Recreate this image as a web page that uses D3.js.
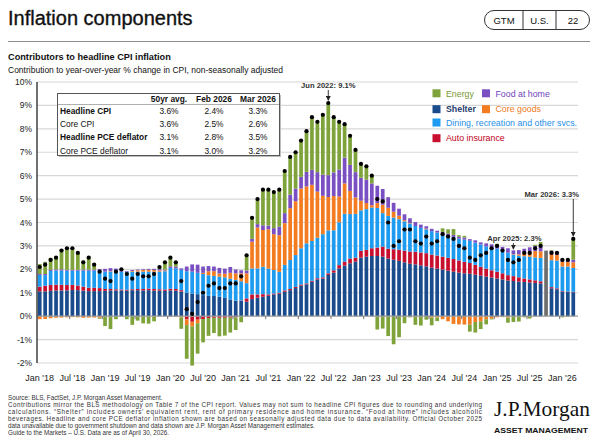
<!DOCTYPE html>
<html><head><meta charset="utf-8">
<script src="https://cdn.jsdelivr.net/npm/d3@7/dist/d3.min.js"></script>
<style>
html,body{margin:0;padding:0;background:#fff;}
svg{display:block;font-family:"Liberation Sans",Arial,Helvetica,sans-serif;}
</style></head><body>
<svg id="c" width="596" height="440"></svg>
<script>
// ---------------- DATA (Jan 2018 .. Mar 2026, index 93 = Oct 2025 unavailable) ----------------
const tickLabels = ["Jan '18","Jul '18","Jan '19","Jul '19","Jan '20","Jul '20","Jan '21","Jul '21","Jan '22","Jul '22","Jan '23","Jul '23","Jan '24","Jul '24","Jan '25","Jul '25","Jan '26"];

const headline = [
 2.1,2.2,2.4,2.5,2.8,2.9,2.9,2.7,2.3,2.5,2.2,1.9,
 1.6,1.5,1.9,2.0,1.8,1.6,1.8,1.7,1.7,1.8,2.1,2.3,
 2.5,2.3,1.5,0.3,0.1,0.6,1.0,1.3,1.4,1.2,1.2,1.4,
 1.4,1.7,2.6,4.2,5.0,5.4,5.4,5.3,5.4,6.2,6.8,7.0,
 7.5,7.9,8.5,8.3,8.6,9.1,8.5,8.3,8.2,7.7,7.1,6.5,
 6.4,6.0,5.0,4.9,4.0,3.0,3.2,3.7,3.7,3.2,3.1,3.4,
 3.1,3.2,3.5,3.4,3.3,3.0,2.9,2.5,2.4,2.6,2.7,2.9,
 3.0,2.8,2.4,2.3,2.4,2.7,2.7,2.9,3.0,null,2.7,2.7,
 2.4,2.4,3.3];

const shelter = [
 1.06,1.06,1.08,1.10,1.10,1.10,1.12,1.11,1.09,1.07,1.07,1.07,
 1.08,1.10,1.10,1.10,1.09,1.11,1.11,1.10,1.11,1.09,1.09,1.08,
 1.10,1.09,1.05,1.00,0.97,0.94,0.90,0.87,0.86,0.83,0.78,0.71,
 0.66,0.65,0.62,0.73,0.79,0.83,0.87,0.93,0.96,1.04,1.11,1.20,
 1.30,1.36,1.47,1.57,1.61,1.76,1.86,2.04,2.16,2.26,2.33,2.50,
 2.54,2.57,2.57,2.54,2.46,2.41,2.36,2.30,2.24,2.21,2.17,2.13,
 2.07,2.03,1.99,1.94,1.90,1.86,1.83,1.81,1.77,1.73,1.69,1.65,
 1.61,1.57,1.52,1.50,1.48,1.46,1.44,1.42,1.40,null,1.19,1.15,
 1.05,1.03,1.02];

const autoInsurance = [
 0.20,0.24,0.25,0.25,0.24,0.23,0.22,0.20,0.17,0.15,0.14,0.13,
 0.08,0.06,0.05,0.04,0.04,0.04,0.05,0.06,0.07,0.07,0.06,0.06,
 0.07,0.07,0.06,-0.14,-0.24,-0.15,-0.12,-0.08,-0.07,-0.07,-0.07,-0.06,
 -0.05,0.02,0.14,0.20,0.14,0.11,0.06,0.04,0.04,0.06,0.05,0.05,
 0.05,0.04,0.04,0.05,0.05,0.07,0.10,0.14,0.17,0.20,0.17,0.29,
 0.29,0.33,0.36,0.43,0.42,0.45,0.48,0.50,0.52,0.54,0.55,0.56,
 0.56,0.56,0.55,0.55,0.54,0.52,0.49,0.46,0.42,0.38,0.34,0.31,
 0.29,0.26,0.23,0.21,0.18,0.15,0.13,0.11,0.09,null,0.05,0.04,
 0.02,0.02,0.02];

const dining = [
 0.50,0.45,0.60,0.60,0.60,0.61,0.60,0.63,0.68,0.72,0.73,0.74,
 0.74,0.74,0.75,0.76,0.77,0.75,0.74,0.74,0.72,0.74,0.75,0.78,
 0.89,0.88,0.87,0.92,0.93,0.91,0.90,0.88,0.86,0.86,0.88,0.89,
 0.89,0.82,0.65,1.11,1.11,1.17,1.10,1.00,0.89,1.09,1.24,1.36,
 1.55,1.71,1.70,1.73,1.84,1.83,1.71,1.83,2.04,1.90,1.87,1.73,
 1.74,1.74,1.69,1.43,1.40,1.35,1.30,1.25,1.20,1.10,1.05,1.02,
 1.00,0.98,0.96,0.95,0.95,0.93,0.95,0.95,0.95,0.95,0.95,0.97,
 0.98,0.98,0.96,0.92,0.92,0.95,0.97,0.98,1.00,null,1.15,1.18,
 1.05,1.07,1.02];

const coreGoods = [
 -0.13,-0.12,-0.09,-0.07,-0.06,-0.05,-0.04,-0.05,-0.07,-0.06,-0.06,-0.07,
 0.00,0.02,0.00,-0.02,0.00,0.03,0.06,0.08,0.08,0.07,0.05,0.03,
 -0.02,-0.03,-0.05,-0.24,-0.20,-0.15,0.05,0.17,0.20,0.13,0.15,0.25,
 0.28,0.34,0.42,1.14,1.75,1.57,1.68,1.53,1.57,1.78,2.21,2.30,
 2.55,2.43,2.40,1.97,1.64,1.43,1.46,1.10,1.30,0.99,0.70,0.41,
 0.26,0.10,0.21,0.36,0.35,0.25,0.15,0.05,0.02,-0.02,0.00,0.03,
 -0.06,-0.06,-0.13,-0.22,-0.33,-0.35,-0.36,-0.36,-0.25,-0.22,-0.13,-0.10,
 -0.05,-0.03,-0.06,0.02,0.06,0.13,0.22,0.27,0.28,null,0.26,0.24,
 0.20,0.19,0.24];

const foodAtHome = [
 0.04,0.05,0.05,0.05,0.06,0.04,0.04,0.04,0.05,0.04,0.05,0.07,
 0.12,0.13,0.13,0.06,0.03,0.04,0.03,0.03,0.04,0.05,0.06,0.04,
 0.07,0.08,0.06,0.20,0.31,0.35,0.27,0.22,0.20,0.24,0.22,0.25,
 0.16,0.13,0.12,0.12,0.14,0.20,0.16,0.26,0.36,0.43,0.58,0.54,
 0.50,0.62,0.64,0.83,0.90,0.93,1.01,1.15,1.10,1.11,1.08,0.98,
 1.00,0.93,0.74,0.67,0.45,0.38,0.30,0.25,0.20,0.17,0.14,0.10,
 0.10,0.08,0.10,0.09,0.08,0.08,0.09,0.07,0.10,0.09,0.13,0.14,
 0.15,0.15,0.19,0.16,0.18,0.19,0.18,0.22,0.22,null,0.15,0.14,
 0.12,0.12,0.11];

const energy = [
 0.43,0.52,0.51,0.57,0.86,0.97,0.96,0.77,0.38,0.58,0.27,-0.04,
 -0.42,-0.55,-0.13,0.06,-0.13,-0.37,-0.19,-0.31,-0.32,-0.22,0.09,0.31,
 0.39,0.21,-0.49,-1.44,-1.67,-1.30,-1.00,-0.76,-0.65,-0.79,-0.76,-0.64,
 -0.54,-0.26,0.65,0.90,1.07,1.52,1.53,1.54,1.58,1.80,1.61,1.55,
 1.55,1.74,2.25,2.15,2.56,3.08,2.36,2.04,1.43,1.24,0.95,0.59,
 0.57,0.33,-0.57,-0.53,-0.85,-1.20,-0.90,-0.30,-0.05,-0.35,-0.40,-0.15,
 -0.33,-0.15,0.15,0.18,0.25,0.07,0.07,-0.30,-0.45,-0.33,-0.22,-0.04,
 0.06,-0.01,-0.22,-0.25,-0.23,-0.05,-0.10,0.05,0.18,null,0.03,0.00,
 -0.05,-0.03,0.91];

const estimateIndex = 93;      // Oct 2025 (official data unavailable)
const estimateValue = 2.8;     // J.P. Morgan estimate, shown in grey

const tableHeader = ["50yr avg.","Feb 2026","Mar 2026"];
const tableRows = ["Headline CPI","Core CPI","Headline PCE deflator","Core PCE deflator"];
const tableValues = [["3.6%","2.4%","3.3%"],["3.6%","2.5%","2.6%"],["3.1%","2.8%","3.5%"],["3.1%","3.0%","3.2%"]];

const annotations = [
 {i:53, text:"Jun 2022: 9.1%"},
 {i:87, text:"Apr 2025: 2.3%"},
 {i:98, text:"Mar 2026: 3.3%"}
];

// ---------------- SETUP ----------------
const svg = d3.select("#c");
const months = d3.timeMonth.range(new Date(2018,0,1), new Date(2026,3,1));
const idx = d3.range(months.length);
const x = d3.scaleBand().domain(idx).range([37,576]).paddingInner(0.32).paddingOuter(0.16);
const bw = x.bandwidth();
const y = d3.scaleLinear().domain([-2,10]).range([363,82]);

const keys = ["shelter","autoInsurance","dining","coreGoods","foodAtHome","energy"];
const seriesData = {shelter, autoInsurance, dining, coreGoods, foodAtHome, energy};
const colors = {shelter:"#1a4b8c", autoInsurance:"#c8102e", dining:"#1d9bf0", coreGoods:"#f47c20", foodAtHome:"#7a4fc2", energy:"#7fa33b"};

// ---------------- HEADER ----------------
svg.append("text").attr("x",8).attr("y",25).attr("font-size",20).attr("fill","#111")
  .attr("stroke","#111").attr("stroke-width",0.35).text("Inflation components");

const pill = svg.append("g").attr("font-size",9.5).attr("fill","#111");
pill.append("rect").attr("x",484.5).attr("y",10.5).attr("width",105).attr("height",19).attr("rx",9.5)
  .attr("fill","none").attr("stroke","#333").attr("stroke-width",1);
[523,556].forEach(v=>pill.append("line").attr("x1",v).attr("x2",v).attr("y1",10.5).attr("y2",29.5).attr("stroke","#333"));
[["GTM",504],["U.S.",539.5],["22",573]].forEach(([t,cx])=>pill.append("text").attr("x",cx).attr("y",23.5).attr("text-anchor","middle").text(t));

svg.append("line").attr("x1",8).attr("x2",590).attr("y1",41.5).attr("y2",41.5).attr("stroke","#8c8c8c").attr("stroke-width",1);

svg.append("text").attr("x",8).attr("y",60).attr("font-size",9.2).attr("font-weight","bold").attr("fill","#111")
  .text("Contributors to headline CPI inflation");
svg.append("text").attr("x",8).attr("y",72.5).attr("font-size",8.5).attr("fill","#111")
  .text("Contribution to year-over-year % change in CPI, non-seasonally adjusted");

// ---------------- GRID & AXES ----------------
const yTicks = d3.range(-2,11);
svg.append("g").selectAll("line").data(yTicks.filter(v=>v!==0)).join("line")
  .attr("x1",37).attr("x2",578).attr("y1",d=>y(d)).attr("y2",d=>y(d))
  .attr("stroke","#d8d8d8").attr("stroke-width",1.2);
svg.append("g").selectAll("text").data(yTicks).join("text")
  .attr("x",32).attr("y",d=>y(d)+3).attr("text-anchor","end").attr("font-size",8.5).attr("fill","#222")
  .text(d=>d+"%");

// ---------------- BARS ----------------
const rows = idx.map(i=>{const o={i}; keys.forEach(k=>o[k]=seriesData[k][i]==null?0:seriesData[k][i]); return o;});
const stacked = d3.stack().keys(keys).offset(d3.stackOffsetDiverging)(rows);
const barG = svg.append("g");
stacked.forEach(s=>{
  barG.append("g").attr("fill",colors[s.key]).selectAll("rect")
    .data(s.filter(d=>Math.abs(d[1]-d[0])>1e-9)).join("rect")
    .attr("x",d=>x(d.data.i)).attr("width",bw)
    .attr("y",d=>y(Math.max(d[0],d[1])))
    .attr("height",d=>Math.abs(y(d[0])-y(d[1])));
});
// estimated (grey) bar
barG.append("rect").attr("x",x(estimateIndex)).attr("width",bw)
  .attr("y",y(estimateValue)).attr("height",y(0)-y(estimateValue)).attr("fill","#6e6e6e");

// zero line + y axis line
svg.append("line").attr("x1",37).attr("x2",578).attr("y1",y(0)).attr("y2",y(0)).attr("stroke","#9a9a9a").attr("stroke-width",1.2);
svg.append("line").attr("x1",37).attr("x2",37).attr("y1",y(10)).attr("y2",y(-2)).attr("stroke","#111").attr("stroke-width",1.2);

// small x ticks between Jun|Jul and Dec|Jan
svg.append("g").selectAll("line").data(idx.filter(k=>k%6===5 && k<98)).join("line")
  .attr("x1",k=>(x(k)+x(k+1))/2+bw/2).attr("x2",k=>(x(k)+x(k+1))/2+bw/2)
  .attr("y1",y(0)).attr("y2",y(0)+3).attr("stroke","#555").attr("stroke-width",0.8);

// x labels
svg.append("g").selectAll("text").data(tickLabels).join("text")
  .attr("x",(d,j)=>x(j*6)+bw/2).attr("y",381).attr("text-anchor","middle")
  .attr("font-size",9).attr("fill","#222").text(d=>d);

// headline dots
svg.append("g").selectAll("circle").data(idx.filter(i=>headline[i]!=null)).join("circle")
  .attr("cx",i=>x(i)+bw/2).attr("cy",i=>y(headline[i])).attr("r",2.1).attr("fill","#000");

// ---------------- ANNOTATIONS ----------------
const defs = svg.append("defs");
defs.append("marker").attr("id","arr").attr("viewBox","0 0 6 6").attr("refX",5).attr("refY",3)
  .attr("markerWidth",5).attr("markerHeight",5).attr("markerUnits","userSpaceOnUse").attr("orient","auto")
  .append("path").attr("d","M0,0L6,3L0,6Z").attr("fill","#222");
function posTop(i){let s=0; keys.forEach(k=>{const v=seriesData[k][i]; if(v>0) s+=v;}); return s;}
const annG = svg.append("g").attr("font-size",7.6).attr("font-weight","bold").attr("fill","#333");
// Jun 2022
{const a=annotations[0], cx=x(a.i)+bw/2;
 annG.append("text").attr("x",cx).attr("y",88).attr("text-anchor","middle").text(a.text);
 annG.append("line").attr("x1",cx).attr("x2",cx).attr("y1",90).attr("y2",y(headline[a.i])-3).attr("stroke","#222").attr("stroke-width",0.9).attr("marker-end","url(#arr)");}
// Apr 2025
{const a=annotations[1], cx=x(a.i)+bw/2;
 annG.append("text").attr("x",cx+1).attr("y",241).attr("text-anchor","middle").text(a.text);
 annG.append("line").attr("x1",cx).attr("x2",cx).attr("y1",243).attr("y2",y(posTop(a.i))-1.5).attr("stroke","#222").attr("stroke-width",0.9).attr("marker-end","url(#arr)");}
// Mar 2026
{const a=annotations[2], cx=x(a.i)+bw/2;
 annG.append("text").attr("x",579).attr("y",197).attr("text-anchor","end").text(a.text);
 annG.append("line").attr("x1",cx).attr("x2",cx).attr("y1",199).attr("y2",y(headline[a.i])-3).attr("stroke","#222").attr("stroke-width",0.9).attr("marker-end","url(#arr)");}

// ---------------- TABLE ----------------
const tg = svg.append("g");
tg.append("rect").attr("x",59).attr("y",95).attr("width",222).attr("height",62).attr("fill","#bdbdbd");
tg.append("rect").attr("x",57.5).attr("y",93.5).attr("width",222).attr("height",62).attr("fill","#fff").attr("stroke","#555").attr("stroke-width",1);
const colX = [169,214,258];
tableHeader.forEach((t,j)=>tg.append("text").attr("x",colX[j]).attr("y",101.5).attr("text-anchor","middle")
  .attr("font-size",8.4).attr("font-weight","bold").attr("fill","#111").text(t));
tg.append("line").attr("x1",58).attr("x2",279).attr("y1",104.5).attr("y2",104.5).attr("stroke","#9a9a9a").attr("stroke-width",0.8);
tableRows.forEach((r,ri)=>{
  const yy = 113.5 + ri*13.4;
  tg.append("text").attr("x",60).attr("y",yy).attr("font-size",8.4)
    .attr("font-weight",r.startsWith("Headline")?"bold":"normal").attr("fill","#111").text(r);
  tableValues[ri].forEach((v,j)=>tg.append("text").attr("x",colX[j]).attr("y",yy).attr("text-anchor","middle")
    .attr("font-size",8.4).attr("fill","#111").text(v));
});

// ---------------- LEGEND ----------------
const legendItems = [
 {key:"energy", label:"Energy", col:0, row:0, tc:"#7a9a36"},
 {key:"foodAtHome", label:"Food at home", col:1, row:0, tc:"#6f45bd"},
 {key:"shelter", label:"Shelter", col:0, row:1, tc:"#1f3d6e", bold:true},
 {key:"coreGoods", label:"Core goods", col:1, row:1, tc:"#ee7a22"},
 {key:"dining", label:"Dining, recreation and other svcs.", col:0, row:2, tc:"#1e8fe8"},
 {key:"autoInsurance", label:"Auto insurance", col:0, row:3, tc:"#c00018"}
];
const rowY = [93.3,109.2,122.5,138.2];
const colLX = [432.5,482];
const lg = svg.append("g");
legendItems.forEach(it=>{
  lg.append("rect").attr("x",colLX[it.col]).attr("y",rowY[it.row]-4).attr("width",8).attr("height",8).attr("fill",colors[it.key]);
  lg.append("text").attr("x",colLX[it.col]+13.5).attr("y",rowY[it.row]+3.2).attr("font-size",8.8)
    .attr("font-weight",it.bold?"bold":"normal").attr("fill",it.tc).text(it.label);
});

// ---------------- FOOTER ----------------
const footer = [
 {t:"Source: BLS, FactSet, J.P. Morgan Asset Management.", j:false},
 {t:"Contributions mirror the BLS methodology on Table 7 of the CPI report. Values may not sum to headline CPI figures due to rounding and underlying", j:true},
 {t:"calculations. \u201cShelter\u201d includes owners\u2019 equivalent rent, rent of primary residence and home insurance. \u201cFood at home\u201d includes alcoholic", j:true},
 {t:"beverages. Headline and core PCE deflator inflation shown are based on seasonally adjusted data due to data availability. Official October 2025", j:true},
 {t:"data unavailable due to government shutdown and data shown are J.P. Morgan Asset Management estimates.", j:false},
 {t:"Guide to the Markets \u2013 U.S. Data are as of April 30, 2026.", j:false}
];
const fg = svg.append("g").attr("font-size",6.3).attr("fill","#333");
footer.forEach((f,k)=>{
  const t = fg.append("text").attr("x",8).attr("y",399.5+k*7.0).text(f.t);
  if(f.j) t.attr("textLength",474).attr("lengthAdjust","spacing");
});

// logo
svg.append("text").attr("x",494).attr("y",416).attr("font-family","'Liberation Serif','DejaVu Serif',serif")
  .attr("font-size",21).attr("fill","#111").attr("textLength",96).attr("lengthAdjust","spacingAndGlyphs").text("J.P.Morgan");
svg.append("text").attr("x",494).attr("y",432.5).attr("font-size",8).attr("font-weight","bold").attr("fill","#111")
  .attr("textLength",94).attr("lengthAdjust","spacingAndGlyphs").text("ASSET MANAGEMENT");
</script>
</body></html>
